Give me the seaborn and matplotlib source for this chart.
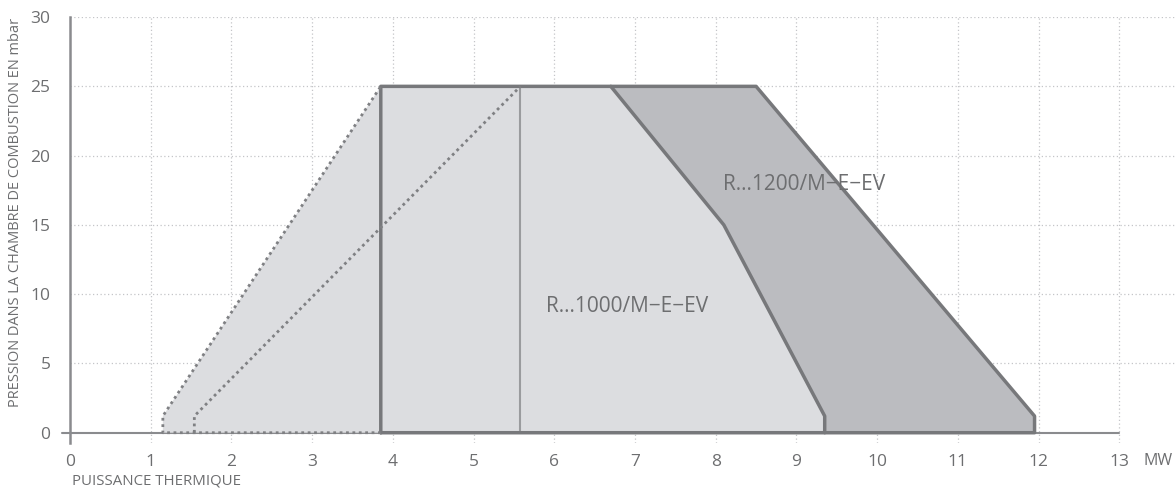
import numpy as np
import pandas as pd
import seaborn as sns
from matplotlib import pyplot as plt

# operating ranges (MW, mbar)
r1000_x = [1.15, 1.15, 3.85, 6.7, 8.1, 9.35, 9.35]
r1000_y = [0, 1.2, 25, 25, 15, 1.2, 0]
r1200_x = [6.7, 8.5, 11.95, 11.95, 9.35, 9.35, 8.1]
r1200_y = [25, 25, 1.2, 0, 0, 1.2, 15]

solid_x = [3.85, 3.85, 8.5, 11.95, 11.95, 3.85]
solid_y = [0, 25, 25, 1.2, 0, 0]
inner_x = [6.7, 8.1, 9.35, 9.35]
inner_y = [25, 15, 1.2, 0]
dot_outer_x = [3.85, 1.15, 1.15, 3.85]
dot_outer_y = [0, 0, 1.2, 25]
dot_inner_x = [1.54, 1.54, 5.58]
dot_inner_y = [0, 1.2, 25]
mid_x = [5.58, 5.58]
mid_y = [0, 25]

x_ticks = list(range(0, 14))
y_ticks = [0, 5, 10, 15, 20, 25, 30]

sns.set_style("white")
plt.rcParams['font.family'] = ['Open Sans', 'DejaVu Sans']
txt = '#6d6e70'
edge = '#77787b'

fig = plt.figure(figsize=(11.75, 4.88), dpi=100)
ax = fig.add_axes([0.0596, 0.092, 0.9404, 0.873])

ax.fill(r1000_x, r1000_y, color='#dcdde0', lw=0, zorder=2)
ax.fill(r1200_x, r1200_y, color='#bbbcc0', lw=0, zorder=2)

def draw(xs, ys, **kw):
    d = pd.DataFrame({'x': xs, 'y': ys})
    sns.lineplot(data=d, x='x', y='y', sort=False, estimator=None, ax=ax, **kw)

draw(mid_x, mid_y, color='#9a9b9e', lw=1.5, zorder=3)
draw(solid_x, solid_y, color=edge, lw=2.5, zorder=4)
draw(inner_x, inner_y, color=edge, lw=2.5, zorder=4)
draw(dot_outer_x, dot_outer_y, color='#7f8083', lw=2, linestyle=(0, (1, 1.3)), zorder=4)
draw(dot_inner_x, dot_inner_y, color='#7f8083', lw=2, linestyle=(0, (1, 1.3)), zorder=4)

ax.plot([-0.1, 13], [0, 0], color='#8a8b8e', lw=1.5, zorder=1, clip_on=False)

ax.set_xlim(0, 13.69)
ax.set_ylim(-0.75, 30)
ax.set_xticks(x_ticks)
ax.set_yticks(y_ticks)
ax.set_xticklabels([str(t) for t in x_ticks])
ax.set_yticklabels([str(t) for t in y_ticks])
ax.tick_params(length=0, labelsize=12.5, colors=txt)
ax.tick_params(axis='x', pad=8)
ax.tick_params(axis='y', pad=14)

for v in x_ticks[1:]:
    ax.axvline(v, color='#c4c5c8', lw=0.9, linestyle=(0, (1, 2)), zorder=0)
for v in y_ticks[1:]:
    ax.axhline(v, color='#c4c5c8', lw=0.9, linestyle=(0, (1, 2)), zorder=0)

for s in ['top', 'right', 'bottom']:
    ax.spines[s].set_visible(False)
ax.spines['left'].set_color('#8a8b8e')
ax.spines['left'].set_linewidth(1.8)

ax.set_xlabel('')
ax.set_ylabel('PRESSION DANS LA CHAMBRE DE COMBUSTION EN mbar', fontsize=10.5, color=txt)
ax.yaxis.set_label_coords(-0.043, 0.542)
fig.text(72 / 1175, 1 - 481 / 488, 'PUISSANCE THERMIQUE', fontsize=10.8, color=txt, va='center', ha='left')
fig.text(1173 / 1175, 1 - 461 / 488, 'MW', fontsize=11.5, color=txt, va='center', ha='right')

ax.text(6.9, 9.1, 'R...1000/M−E−EV', fontsize=15, color=txt, ha='center', va='center', zorder=5)
ax.text(9.1, 17.9, 'R...1200/M−E−EV', fontsize=15, color=txt, ha='center', va='center', zorder=5)

plt.savefig('out.png', dpi=100)
